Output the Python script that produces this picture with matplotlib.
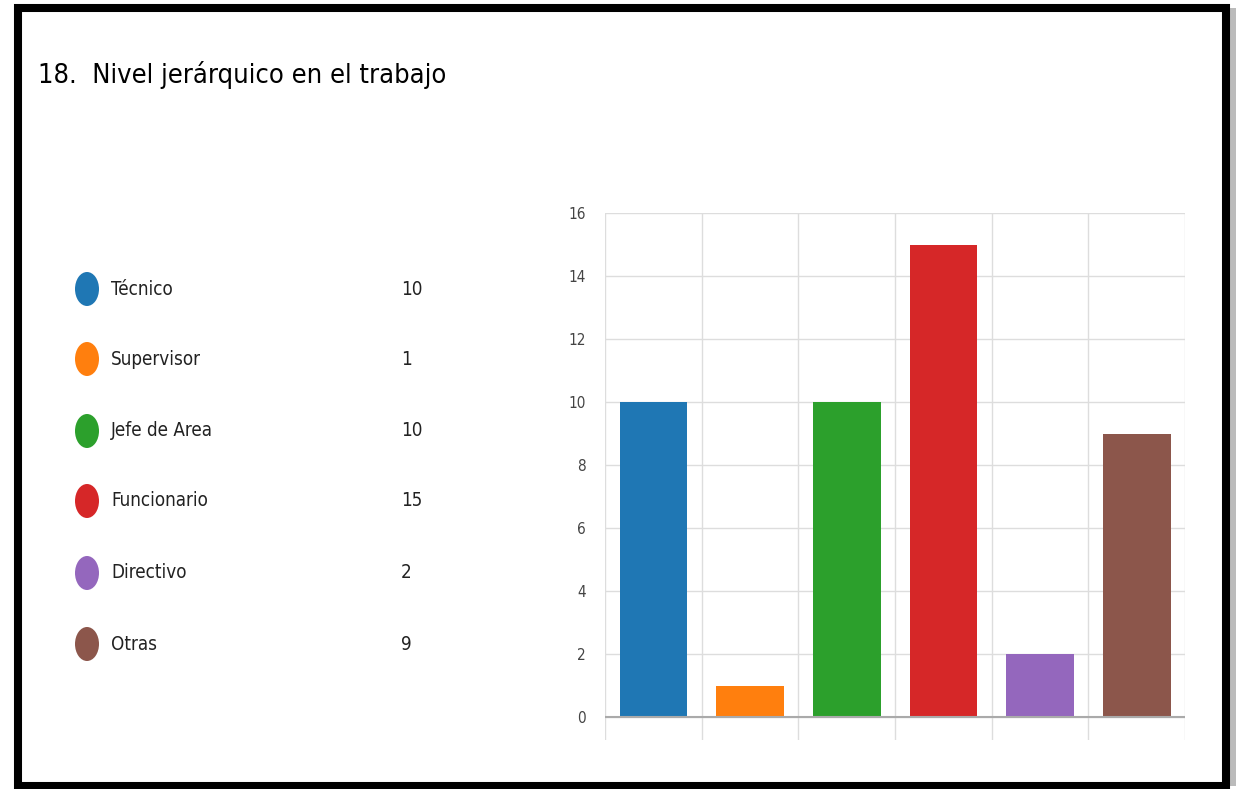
import matplotlib
matplotlib.use('Agg')
import matplotlib.pyplot as plt
from matplotlib.patches import Rectangle, Ellipse

categories = ['Técnico', 'Supervisor', 'Jefe de Area', 'Funcionario', 'Directivo', 'Otras']
values = [10, 1, 10, 15, 2, 9]
colors = ['#1f77b4', '#ff7f0e', '#2ca02c', '#d62728', '#9467bd', '#8c564b']
yticks = [0, 2, 4, 6, 8, 10, 12, 14, 16]
title = '18.  Nivel jerárquico en el trabajo'

W, H = 1238, 789
fig = plt.figure(figsize=(W / 100, H / 100), dpi=100)
plt.rcParams['font.family'] = ['DejaVu Sans']

def px(x, y):
    # pixel (from top-left) -> figure fraction
    return x / W, 1 - y / H

# outer black frame with a soft shadow on the right
fig.patches.append(Rectangle((px(1230, 0)[0], px(0, 786)[1]), 6 / W, 778 / H,
                             transform=fig.transFigure, facecolor='#bbbbbb',
                             edgecolor='none'))
fig.patches.append(Rectangle((px(18, 0)[0], px(0, 786)[1]), 1208 / W, 778 / H,
                             transform=fig.transFigure, fill=False,
                             edgecolor='black', linewidth=5.8))

tx, ty = px(38, 75)
fig.text(tx, ty, title, fontsize=19.5, fontstretch='condensed', va='center', ha='left')

# legend list on the left
row_y = [289, 359, 431, 501, 573, 644]
for cat, val, col, yy in zip(categories, values, colors, row_y):
    cx, cy = px(87, yy)
    fig.patches.append(Ellipse((cx, cy), 24 / W, 34 / H, transform=fig.transFigure,
                               facecolor=col, edgecolor='none'))
    lx, ly = px(111, yy)
    fig.text(lx, ly, cat, fontsize=13.5, fontstretch='condensed', va='center', ha='left', color='#222222')
    vx, vy = px(401, yy)
    fig.text(vx, vy, str(val), fontsize=13.5, fontstretch='condensed', va='center', ha='left', color='#222222')

# bar chart
left, right, top, zero = 605, 1185, 213, 717
ax = fig.add_axes([left / W, 1 - 740 / H, (right - left) / W, (740 - top) / H])
n = len(categories)
x = list(range(n))
ax.bar(x, values, width=0.7, color=colors, zorder=3)
ax.set_xlim(-0.5, n - 0.5)
ax.set_ylim(-16 * 23 / (zero - top), 16)
ax.set_yticks(yticks)
ax.set_xticks([i - 0.5 for i in range(n + 1)])
ax.set_xticklabels([])
ax.tick_params(axis='both', length=0)
ax.tick_params(axis='y', pad=14, labelsize=11, labelcolor='#444444')
for s in ax.spines.values():
    s.set_visible(False)
ax.grid(True, color='#dddddd', linewidth=1, zorder=0)
ax.axhline(0, color='#aaaaaa', linewidth=1.5, zorder=4)
for lab in ax.get_yticklabels():
    lab.set_fontstretch('condensed')
ax.set_facecolor('none')

fig.savefig('out.png', dpi=100)
